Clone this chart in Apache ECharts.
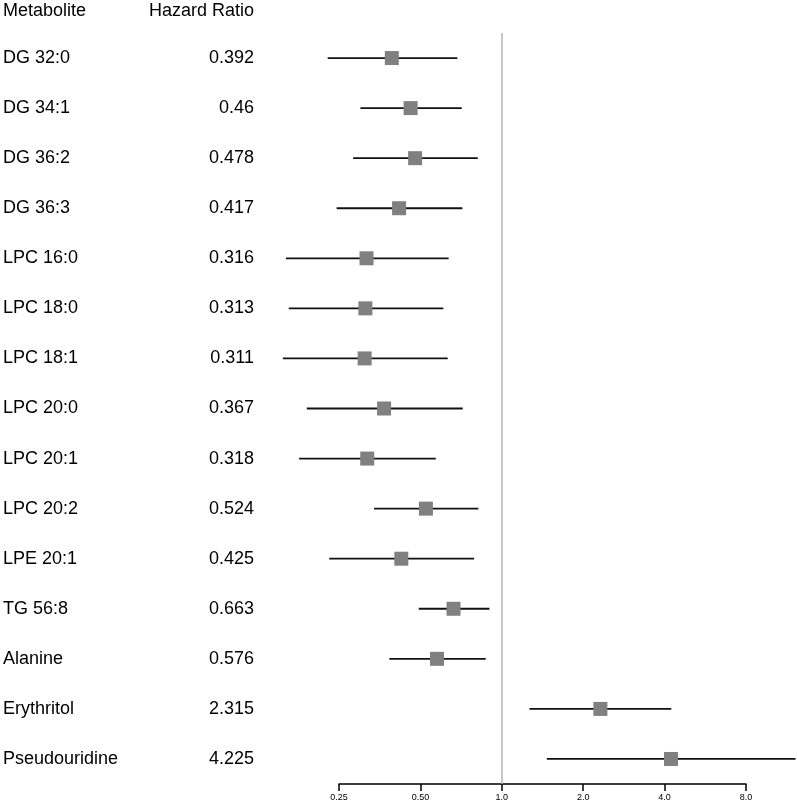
<!DOCTYPE html>
<html>
<head>
<meta charset="utf-8">
<script src="https://cdn.jsdelivr.net/npm/echarts@6/dist/echarts.min.js"></script>
<style>html,body{margin:0;padding:0;background:#fff}#c{width:797px;height:806px}</style>
</head>
<body>
<div id="c"></div>
<script>
var metabolites = ['DG 32:0','DG 34:1','DG 36:2','DG 36:3','LPC 16:0','LPC 18:0','LPC 18:1','LPC 20:0','LPC 20:1','LPC 20:2','LPE 20:1','TG 56:8','Alanine','Erythritol','Pseudouridine'];
var hazardRatios = [0.392,0.46,0.478,0.417,0.316,0.313,0.311,0.367,0.318,0.524,0.425,0.663,0.576,2.315,4.225];
var hrLabels = ['0.392','0.46','0.478','0.417','0.316','0.313','0.311','0.367','0.318','0.524','0.425','0.663','0.576','2.315','4.225'];
var ciLower = [0.227,0.300,0.282,0.245,0.159,0.163,0.155,0.190,0.178,0.337,0.230,0.493,0.384,1.266,1.467];
var ciUpper = [0.685,0.711,0.815,0.715,0.636,0.608,0.631,0.717,0.570,0.819,0.790,0.900,0.872,4.235,12.2];
var tickLabels = ['0.25','0.50','1.0','2.0','4.0','8.0'];

var FONT = 'Liberation Sans, Arial, Helvetica, sans-serif';
var chart = echarts.init(document.getElementById('c'), null, {renderer:'canvas'});

var ciData = metabolites.map(function(m,i){ return [ciLower[i], ciUpper[i], i]; });
var ptData = metabolites.map(function(m,i){ return [hazardRatios[i], i]; });

chart.setOption({
  animation:false,
  backgroundColor:'#fff',
  graphic:[
    {type:'text', left:3, top:2, style:{text:'Metabolite', font:'18px '+FONT, fill:'#000'}},
    {type:'text', right:797-254, top:2, style:{text:'Hazard Ratio', font:'18px '+FONT, fill:'#000'}}
  ],
  grid:{left:339, right:51, top:33, bottom:22, containLabel:false},
  xAxis:{
    type:'log', logBase:2, min:0.25, max:8,
    axisLine:{show:true, lineStyle:{color:'#000', width:1.5}},
    axisTick:{show:true, length:7, lineStyle:{color:'#000', width:1.5}},
    axisLabel:{fontSize:9, color:'#000', fontFamily:FONT, margin:9,
      formatter:function(v, idx){ return tickLabels[idx]; }},
    splitLine:{show:false}, minorTick:{show:false}
  },
  yAxis:[
    {type:'category', inverse:true, data:metabolites, position:'left',
     axisLine:{show:false}, axisTick:{show:false}, splitLine:{show:false},
     axisLabel:{align:'left', margin:336, fontSize:18, color:'#000', fontFamily:FONT}},
    {type:'category', inverse:true, data:hrLabels, position:'left', offset:0,
     axisLine:{show:false}, axisTick:{show:false}, splitLine:{show:false},
     axisLabel:{align:'right', margin:85, fontSize:18, color:'#000', fontFamily:FONT}}
  ],
  series:[
    {type:'custom', clip:false, data:ciData, encode:{x:[0,1], y:2}, z:2,
     renderItem:function(params, api){
       var p1 = api.coord([api.value(0), api.value(2)]);
       var p2 = api.coord([api.value(1), api.value(2)]);
       return {type:'line', shape:{x1:p1[0], y1:p1[1], x2:p2[0], y2:p2[1]},
               style:{stroke:'#111', lineWidth:1.8}};
     }},
    {type:'scatter', data:ptData, symbol:'rect', symbolSize:14, z:3,
     itemStyle:{color:'#808080', opacity:1},
     markLine:{silent:true, symbol:'none', label:{show:false},
       lineStyle:{color:'#b5b5b5', width:1.5, type:'solid', opacity:1},
       data:[{xAxis:1}]}}
  ]
});
</script>
</body>
</html>
